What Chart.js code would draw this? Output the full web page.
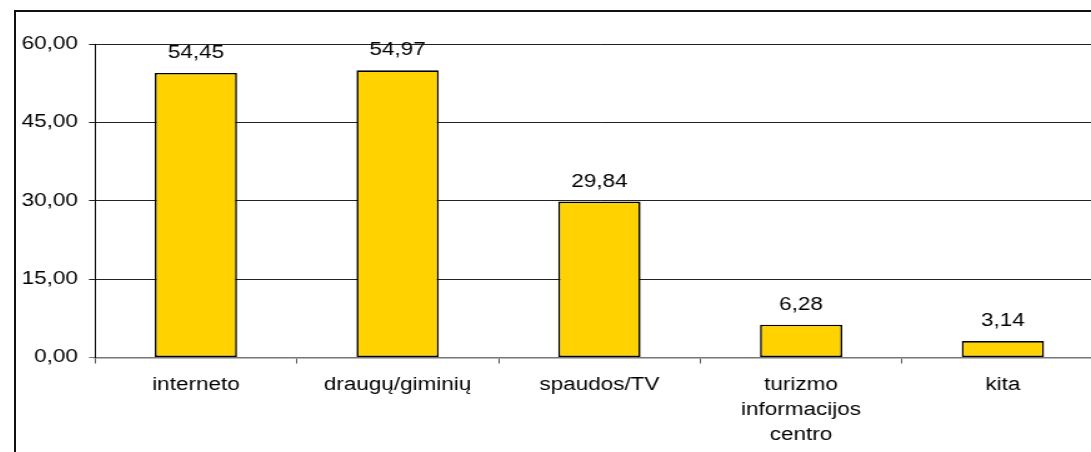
<!DOCTYPE html>
<html>
<head>
<meta charset="utf-8">
<script src="https://cdn.jsdelivr.net/npm/chart.js@4.4.1/dist/chart.umd.min.js"></script>
<style>
	html, body { margin: 0; padding: 0; background: #fff; overflow: hidden; }
	body { width: 1091px; height: 452px; position: relative; }
	#frame {
		position: absolute; left: 14px; top: 10px;
		width: 1200px; height: 600px;
		border-left: 2px solid #111; border-top: 2px solid #111;
	}
	#myChart { position: absolute; left: 0; top: 0; transform: scaleX(1.25); transform-origin: 0 0; }
</style>
</head>
<body>
<div id="frame"><canvas id="myChart" width="890" height="440"></canvas></div>
<script>

const categories = ['interneto', 'draugų/giminių', 'spaudos/TV', ['turizmo', 'informacijos', 'centro'], 'kita'];
const values = [54.45, 54.97, 29.84, 6.28, 3.14];
const yTicks = [0, 15, 30, 45, 60];

const fmt = v => v.toFixed(2).replace('.', ',');
const FONT = { family: 'Liberation Sans, Arial, sans-serif', size: 18, lineHeight: 1.39 };

// value labels above the bars
const barLabels = {
	id: 'barLabels',
	afterDatasetsDraw(chart) {
		const ctx = chart.ctx;
		ctx.save();
		ctx.font = FONT.size + 'px ' + FONT.family;
		ctx.fillStyle = '#000';
		ctx.textAlign = 'center';
		ctx.textBaseline = 'alphabetic';
		chart.getDatasetMeta(0).data.forEach((bar, i) => {
			ctx.fillText(fmt(values[i]), bar.x, bar.y - 15);
		});
		ctx.restore();
	}
};

const ctx = document.getElementById('myChart');

new Chart(ctx, {
	type: 'bar',
	data: {
		labels: categories,
		datasets: [{
			data: values,
			backgroundColor: '#FFD200',
			borderColor: '#000',
			borderWidth: 1.6,
			borderSkipped: false,
			categoryPercentage: 0.408,
			barPercentage: 1
		}]
	},
	options: {
		responsive: false,
		animation: false,
		layout: { padding: { top: 32, left: 0, right: 19.8, bottom: 0 } },
		plugins: { legend: { display: false }, tooltip: { enabled: false } },
		scales: {
			x: {
				offset: true,
				grid: { offset: true, drawOnChartArea: false, drawTicks: true, tickLength: 6, color: '#555', lineWidth: 1 },
				border: { display: true, color: '#777', width: 1.5 },
				ticks: { color: '#000', font: FONT, padding: 9, maxRotation: 0, autoSkip: false },
				afterFit(scale) { scale.height = 94.5; }
			},
			y: {
				min: 0,
				max: 60,
				afterBuildTicks(scale) { scale.ticks = yTicks.map(v => ({ value: v })); },
				grid: {
					color: c => (c.tick && c.tick.value === 0 ? '#777' : '#222'),
					lineWidth: 1,
					drawTicks: true,
					tickLength: 4.8
				},
				border: { display: true, color: '#000', width: 1 },
				ticks: { color: '#000', font: FONT, padding: 8.8, callback: v => fmt(v) },
				afterFit(scale) { scale.width = 63.2; }
			}
		}
	},
	plugins: [barLabels]
});
</script>
</body>
</html>
